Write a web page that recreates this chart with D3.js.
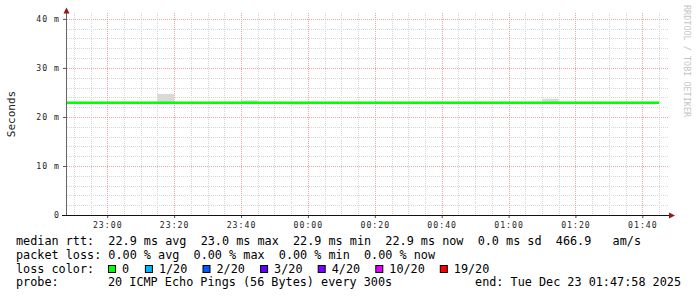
<!DOCTYPE html>
<html>
<head>
<meta charset="utf-8">
<script src="https://cdn.jsdelivr.net/npm/d3@7"></script>
<style>
  body { margin: 0; background: #fff; }
  svg { display: block; font-family: "DejaVu Sans Mono", monospace; }
  .pre { white-space: pre; }
</style>
</head>
<body>
<div id="chart"></div>
<script>
// smokeping style graph, 3 hours, 300s step
let width = 697
let height = 297

const startTime = new Date(Date.UTC(2025, 11, 22, 22, 47, 58))
const endTime = new Date(Date.UTC(2025, 11, 23, 1, 47, 58))
const firstStepEnd = new Date(Date.UTC(2025, 11, 22, 22, 50, 0))
const stepSeconds = 300

// median rtt per step (ms)
const medianRtt = [22.9, 22.9, 22.9, 22.9, 22.9, 22.9, 22.9, 22.9, 22.9, 22.9, 22.9, 22.9,
                   22.9, 22.9, 22.9, 22.9, 22.9, 22.9, 22.9, 22.9, 22.9, 22.9, 22.9, 22.9,
                   22.9, 22.9, 22.9, 22.9, 22.9, 22.9, 22.9, 22.9, 22.9, 22.9, 22.9, 22.9]
// smoke: lowest and highest ping per step (ms)
const smokeLow  = [22.8, 22.8, 22.8, 22.8, 22.8, 22.8, 22.8, 22.8, 22.8, 22.8, 22.8, 22.8,
                   22.8, 22.8, 22.5, 22.8, 22.8, 22.8, 22.8, 22.8, 22.8, 22.8, 22.8, 22.8,
                   22.8, 22.8, 22.8, 22.8, 22.8, 22.8, 22.8, 22.8, 22.8, 22.8, 22.8, 22.8]
const smokeHigh = [23.1, 23.1, 23.1, 23.1, 23.1, 23.1, 24.7, 23.1, 23.1, 23.1, 23.1, 23.4,
                   23.1, 23.1, 23.1, 23.1, 23.1, 23.1, 23.1, 23.1, 23.1, 23.1, 23.1, 23.1,
                   23.1, 23.1, 23.1, 23.1, 23.1, 23.7, 23.1, 23.1, 23.1, 23.1, 23.1, 23.1]

const yTicks = [0, 10, 20, 30, 40]
const lossLabels = ["0", "1/20", "2/20", "3/20", "4/20", "10/20", "19/20"]
const lossColors = ["#00ff00", "#00b8ff", "#0059ff", "#5e00ff", "#7e00ff", "#dd00ff", "#ff0000"]

const rttLine = "median rtt:  22.9 ms avg  23.0 ms max  22.9 ms min  22.9 ms now  0.0 ms sd  466.9   am/s"
const lossLine = "packet loss: 0.00 % avg  0.00 % max  0.00 % min  0.00 % now"
const probeText = "20 ICMP Echo Pings (56 Bytes) every 300s"
const endText = "end: Tue Dec 23 01:47:58 2025"

let svg = d3.select("#chart")
            .append("svg")
            .attr("width", width)
            .attr("height", height)

let xScale = d3.scaleUtc()
    .domain([startTime, endTime])
    .range([67, 669])
    .clamp(true)

let yScale = d3.scaleLinear()
    .domain([0, 41.2])
    .range([215, 13])

let steps = medianRtt.map(function(v, i) {
    let t1 = new Date(firstStepEnd.getTime() + i * stepSeconds * 1000)
    let t0 = new Date(t1.getTime() - stepSeconds * 1000)
    return { t0: t0, t1: t1, median: v, low: smokeLow[i], high: smokeHigh[i] }
})

// grid
let minorY = d3.range(2, 41, 2)
let grid = svg.append("g").attr("class", "grid")
grid.selectAll("line.hminor")
    .data(minorY.filter(function(d) { return d % 10 != 0 }))
    .enter().append("line")
    .attr("x1", 67).attr("x2", 669)
    .attr("y1", function(d) { return Math.round(yScale(d)) + 0.5 })
    .attr("y2", function(d) { return Math.round(yScale(d)) + 0.5 })
    .attr("stroke", "#d6d6d6").attr("stroke-dasharray", "1,1")

grid.selectAll("line.vminor")
    .data(xScale.ticks(d3.utcMinute.every(5)).filter(function(d) { return d.getUTCMinutes() % 20 != 0 }))
    .enter().append("line")
    .attr("y1", 13).attr("y2", 215)
    .attr("x1", function(d) { return Math.round(xScale(d)) + 0.5 })
    .attr("x2", function(d) { return Math.round(xScale(d)) + 0.5 })
    .attr("stroke", "#d6d6d6").attr("stroke-dasharray", "1,1")

grid.selectAll("line.hmajor")
    .data(yTicks.filter(function(d) { return d > 0 }))
    .enter().append("line")
    .attr("x1", 63).attr("x2", 669)
    .attr("y1", function(d) { return Math.round(yScale(d)) + 0.5 })
    .attr("y2", function(d) { return Math.round(yScale(d)) + 0.5 })
    .attr("stroke", "#eda6a6").attr("stroke-dasharray", "1,1")

grid.selectAll("line.vmajor")
    .data(xScale.ticks(d3.utcMinute.every(20)))
    .enter().append("line")
    .attr("y1", 13).attr("y2", 218)
    .attr("x1", function(d) { return Math.round(xScale(d)) + 0.5 })
    .attr("x2", function(d) { return Math.round(xScale(d)) + 0.5 })
    .attr("stroke", "#eda6a6").attr("stroke-dasharray", "1,1")

// smoke
svg.selectAll("rect.smoke")
    .data(steps)
    .enter().append("rect")
    .attr("fill", "#d9d9d9")
    .attr("x", function(d) { return xScale(d.t0) })
    .attr("width", function(d) { return xScale(d.t1) - xScale(d.t0) })
    .attr("y", function(d) { return yScale(d.high) })
    .attr("height", function(d) { return yScale(d.low) - yScale(d.high) })

// median line (step)
let pts = []
steps.forEach(function(d) {
    pts.push([xScale(d.t0), yScale(d.median)])
    pts.push([xScale(d.t1), yScale(d.median)])
})
svg.append("path")
    .attr("d", d3.line()(pts))
    .attr("fill", "none")
    .attr("stroke", lossColors[0])
    .attr("stroke-width", 2.4)

// axes
let yAxis = d3.axisLeft(yScale)
    .tickValues(yTicks)
    .tickSize(4)
    .tickPadding(3)
    .tickFormat(function(d) { return d == 0 ? "0" : d + " m" })
let yg = svg.append("g")
    .attr("transform", "translate(67,0)")
    .call(yAxis)
yg.select(".domain").remove()
yg.selectAll("line").attr("stroke", "#555")
yg.selectAll("text")
    .attr("font-size", 8.2).attr("letter-spacing", 1).attr("fill", "#222")
    .attr("font-family", "DejaVu Sans Mono")

let xAxis = d3.axisBottom(xScale)
    .ticks(d3.utcMinute.every(20))
    .tickFormat(d3.utcFormat("%H:%M"))
    .tickSize(3)
    .tickPadding(4)
let xg = svg.append("g")
    .attr("transform", "translate(0,215)")
    .call(xAxis)
xg.select(".domain").remove()
xg.selectAll("line").attr("stroke", "#555")
xg.selectAll("text")
    .attr("font-size", 8.2).attr("letter-spacing", 1).attr("fill", "#222")
    .attr("font-family", "DejaVu Sans Mono")

svg.append("line")
    .attr("x1", 66.5).attr("x2", 66.5).attr("y1", 216).attr("y2", 10)
    .attr("stroke", "#666")
svg.append("line")
    .attr("x1", 62).attr("x2", 670).attr("y1", 215.5).attr("y2", 215.5)
    .attr("stroke", "#111")
svg.append("path")
    .attr("d", "M63.5,13.5 L66.5,7.5 L69.5,13.5 Z")
    .attr("fill", "#9a1515")
svg.append("path")
    .attr("d", "M669,212.5 L675,215.5 L669,218.5 Z")
    .attr("fill", "#9a1515")

// titles
svg.append("text")
    .attr("transform", "translate(15,114) rotate(-90)")
    .attr("text-anchor", "middle")
    .attr("font-size", 11)
    .attr("fill", "#222")
    .text("Seconds")

svg.append("text")
    .attr("transform", "translate(684,5) rotate(90)")
    .attr("font-size", 8.3)
    .attr("letter-spacing", 0.1)
    .attr("fill", "#c4c4c4")
    .text("RRDTOOL / TOBI OETIKER")

// legend
let legendFont = 11.8
svg.append("text").attr("class", "pre")
    .attr("x", 16).attr("y", 245).attr("font-size", legendFont).attr("fill", "#000")
    .text(rttLine)
svg.append("text").attr("class", "pre")
    .attr("x", 16).attr("y", 259).attr("font-size", legendFont).attr("fill", "#000")
    .text(lossLine)
svg.append("text").attr("class", "pre")
    .attr("x", 16).attr("y", 272.5).attr("font-size", legendFont).attr("fill", "#000")
    .text("loss color:")

let bx = 108.5
let boxes = lossLabels.map(function(l, i) {
    let item = { label: l, color: lossColors[i], x: bx }
    bx += 30 + l.length * 6.9
    return item
})
let lg = svg.selectAll("g.loss").data(boxes).enter().append("g")
lg.append("rect")
    .attr("x", function(d) { return d.x }).attr("y", 265.5)
    .attr("width", 7).attr("height", 7)
    .attr("fill", function(d) { return d.color })
    .attr("stroke", "#000").attr("stroke-width", 1)
lg.append("text")
    .attr("x", function(d) { return d.x + 13.5 }).attr("y", 272.5)
    .attr("font-size", legendFont).attr("fill", "#000")
    .text(function(d) { return d.label })

svg.append("text").attr("class", "pre")
    .attr("x", 16).attr("y", 286).attr("font-size", legendFont).attr("fill", "#000")
    .text("probe:")
svg.append("text").attr("class", "pre")
    .attr("x", 108).attr("y", 286).attr("font-size", legendFont).attr("fill", "#000")
    .text(probeText)
svg.append("text").attr("class", "pre")
    .attr("x", 681).attr("y", 286).attr("text-anchor", "end")
    .attr("font-size", legendFont).attr("fill", "#000")
    .text(endText)
</script>
</body>
</html>
